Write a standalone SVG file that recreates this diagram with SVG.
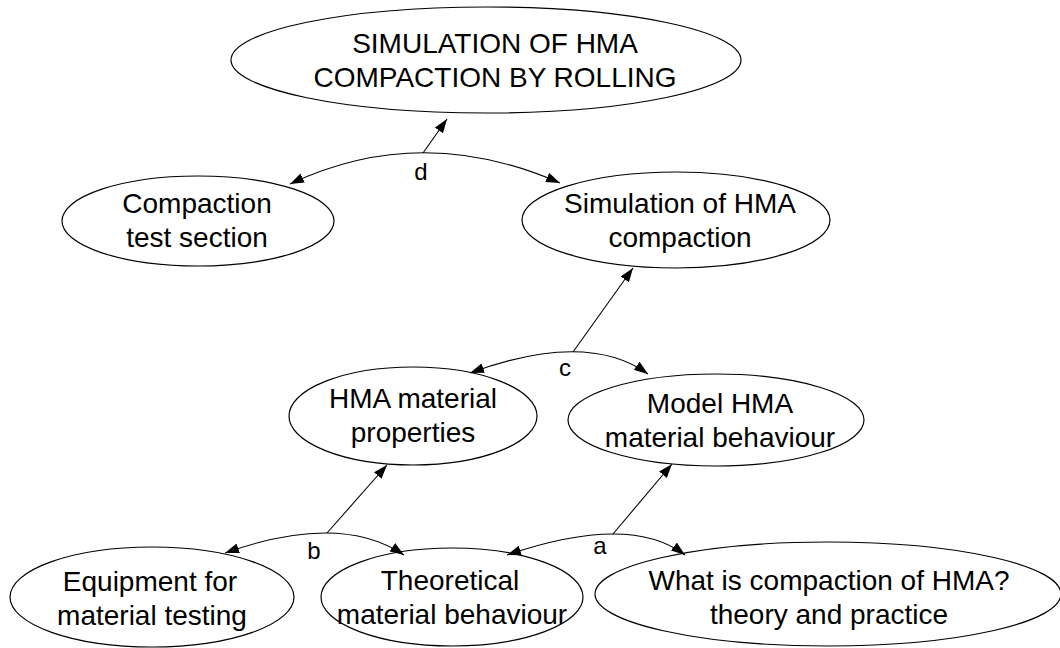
<svg xmlns="http://www.w3.org/2000/svg" width="1060" height="648" viewBox="0 0 1060 648">
  <style>
    .node ellipse { fill: #ffffff; stroke: #000000; stroke-width: 1.2; }
    .node text { font-family: "Liberation Sans", Arial, sans-serif; font-size: 28px; fill: #000000; text-anchor: middle; }
    .edge { fill: none; stroke: #000000; stroke-width: 1.1; }
    .arc { marker-start: url(#arrow); marker-end: url(#arrow); }
    .up { marker-end: url(#arrow); }
    .label { font-family: "Liberation Sans", Arial, sans-serif; font-size: 24px; fill: #000000; text-anchor: middle; }
  </style>
  <defs>
    <marker id="arrow" viewBox="0 0 14 10" refX="14" refY="5" markerWidth="14" markerHeight="10" markerUnits="userSpaceOnUse" orient="auto-start-reverse">
      <path d="M0,0 L14,5 L0,10 Z" fill="#000000"/>
    </marker>
  </defs>
  <rect width="1060" height="648" fill="#ffffff"/>

  <g id="simulation-of-hma-compaction-by-rolling" class="node">
    <ellipse cx="486" cy="60" rx="255" ry="53"/>
    <text x="495" y="53">SIMULATION OF HMA</text>
    <text x="495" y="87">COMPACTION BY ROLLING</text>
  </g>

  <g id="compaction-test-section" class="node">
    <ellipse cx="198" cy="221" rx="136" ry="45"/>
    <text x="197" y="213">Compaction</text>
    <text x="197" y="247">test section</text>
  </g>

  <g id="simulation-of-hma-compaction" class="node">
    <ellipse cx="676" cy="220" rx="154" ry="48"/>
    <text x="680" y="213">Simulation of HMA</text>
    <text x="680" y="247">compaction</text>
  </g>

  <g id="hma-material-properties" class="node">
    <ellipse cx="413" cy="416" rx="124" ry="49"/>
    <text x="413" y="408">HMA material</text>
    <text x="413" y="442">properties</text>
  </g>

  <g id="model-hma-material-behaviour" class="node">
    <ellipse cx="716" cy="420" rx="148" ry="46"/>
    <text x="720" y="413">Model HMA</text>
    <text x="720" y="447">material behaviour</text>
  </g>

  <g id="equipment-for-material-testing" class="node">
    <ellipse cx="152" cy="597" rx="142" ry="50"/>
    <text x="150" y="591">Equipment for</text>
    <text x="152" y="625">material testing</text>
  </g>

  <g id="theoretical-material-behaviour" class="node">
    <ellipse cx="452" cy="597" rx="131" ry="49"/>
    <text x="450" y="590">Theoretical</text>
    <text x="452" y="624">material behaviour</text>
  </g>

  <g id="what-is-compaction-of-hma" class="node">
    <ellipse cx="828" cy="594" rx="233" ry="52"/>
    <text x="829" y="590">What is compaction of HMA?</text>
    <text x="829" y="624">theory and practice</text>
  </g>

  <g id="connectors">
    <!-- d -->
    <path class="edge arc" d="M560,183 Q421,122 290,184"/>
    <path class="edge up" d="M423,153 L447,119"/>
    <text class="label" x="421" y="180">d</text>
    <!-- c -->
    <path class="edge arc" d="M648,374 Q587,330 470,373"/>
    <path class="edge up" d="M573,352 L633,268"/>
    <text class="label" x="565" y="376">c</text>
    <!-- b -->
    <path class="edge arc" d="M404,555 Q340,512 225,553"/>
    <path class="edge up" d="M327,533 L387,465"/>
    <text class="label" x="314" y="559">b</text>
    <!-- a -->
    <path class="edge arc" d="M685,555 Q630,513 507,555"/>
    <path class="edge up" d="M613,534 L672,464"/>
    <text class="label" x="600" y="554">a</text>
  </g>
</svg>
